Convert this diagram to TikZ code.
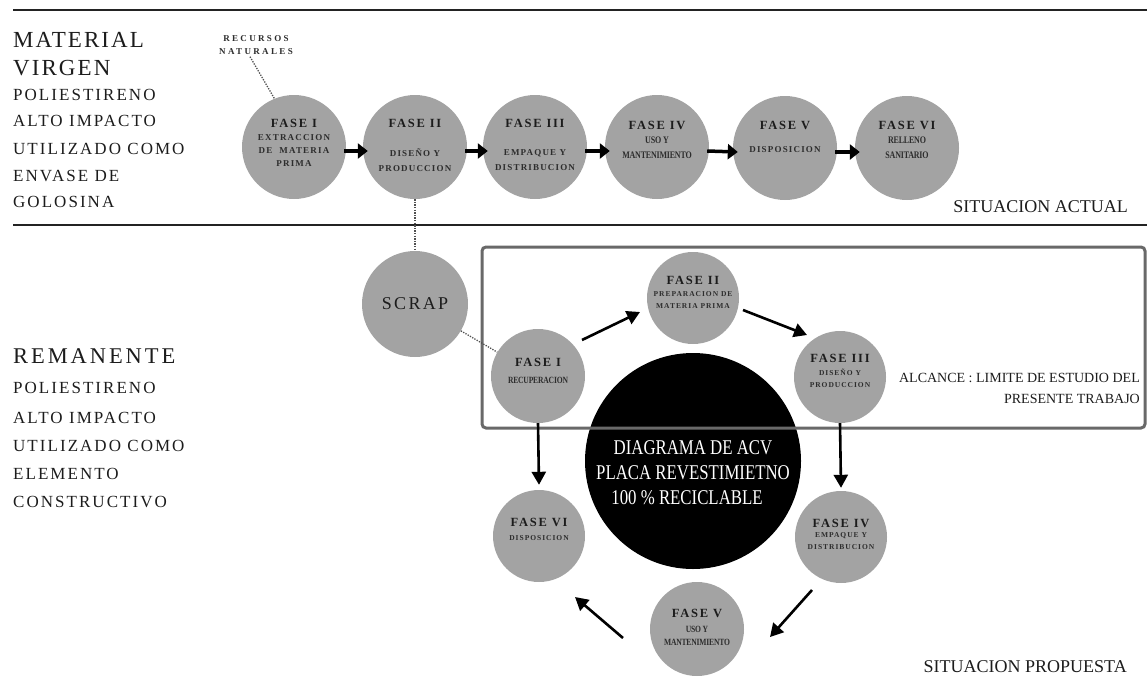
\documentclass[tikz,border=0pt]{standalone}
\usepackage{fontspec}
\setmainfont{Liberation Serif}
\newfontfamily\fntBig[LetterSpace=9]{Liberation Serif}
\newfontfamily\fntRem[LetterSpace=13]{Liberation Serif}
\newfontfamily\fntLeft[LetterSpace=12]{Liberation Serif}
\newfontfamily\fntFase[LetterSpace=14]{Liberation Serif}
\newfontfamily\fntSub[LetterSpace=13]{Liberation Serif}
\newfontfamily\fntRec[LetterSpace=26]{Liberation Serif}
\newfontfamily\fntCond[FakeStretch=0.8,LetterSpace=-2]{Liberation Serif}
\newfontfamily\fntCenter[FakeStretch=0.8]{Liberation Serif}
\usetikzlibrary{arrows.meta,calc}
\definecolor{cgray}{RGB}{163,163,163}
\definecolor{txt}{RGB}{28,28,28}
\definecolor{subc}{RGB}{45,45,45}
\definecolor{boxc}{RGB}{105,105,105}
\definecolor{dotc}{RGB}{80,80,80}
\definecolor{linec}{RGB}{35,35,35}
\begin{document}
\begin{tikzpicture}[x=1pt,y=-1pt,
  circ/.style={circle, fill=cgray, inner sep=0pt, minimum size=#1},
  circ/.default=104,
  fase/.style={font=\fntFase\bfseries\fontsize{12.5}{14}\selectfont, text=txt, inner sep=0pt},
  sub/.style={font=\fntSub\bfseries\fontsize{9}{13}\selectfont, align=center, text=subc, inner sep=0pt},
  subw/.style={font=\fntSub\bfseries\fontsize{9}{15}\selectfont, align=center, text=subc, inner sep=0pt},
  cond/.style={font=\fntCond\bfseries\fontsize{10}{15}\selectfont, align=center, text=subc, inner sep=0pt},
  lsub/.style={font=\fntSub\bfseries\fontsize{7.5}{12}\selectfont, align=center, text=subc, inner sep=0pt},
  lcond/.style={font=\fntCond\bfseries\fontsize{9.5}{12.5}\selectfont, align=center, text=subc, inner sep=0pt},
  bigt/.style={font=\fntBig\fontsize{23}{25}\selectfont, text=txt, anchor=west, inner sep=0pt},
  remt/.style={font=\fntRem\fontsize{22.5}{25}\selectfont, text=txt, anchor=west, inner sep=0pt},
  leftt/.style={font=\fntLeft\fontsize{17}{19}\selectfont, text=txt, anchor=west, inner sep=0pt},
  sit/.style={font=\fontsize{18}{20}\selectfont, text=txt, anchor=east, inner sep=0pt},
  tarr/.style={line width=3.5pt, draw=black, -{Triangle[length=10pt,width=15pt]}},
  barr/.style={line width=2.6pt, draw=black, -{Triangle[length=13pt,width=14pt]}},
  dots/.style={draw=dotc, line width=1.3pt, dash pattern=on 1.3pt off 1.3pt},
  hline/.style={draw=linec, line width=2.8pt},
  boxst/.style={draw=boxc, line width=3pt, rounded corners=4pt}
]
\useasboundingbox (0,0) rectangle (1147,677);

% separator lines
\draw[hline] (13,10) -- (1147,10);
\draw[hline] (13,225) -- (1147,225);

% left texts top
\node[bigt] (l1) at (13,40) {MATERIAL};
\node[bigt] (l2) at (13,68) {VIRGEN};
\node[leftt] (l3) at (13,95) {POLIESTIRENO};
\node[leftt] (l4) at (13,121) {ALTO IMPACTO};
\node[leftt] (l5) at (13,149) {UTILIZADO COMO};
\node[leftt] (l6) at (13,176) {ENVASE DE};
\node[leftt] (l7) at (13,202) {GOLOSINA};

% left texts bottom
\node[remt] (r1) at (13,356) {REMANENTE};
\node[leftt] (r2) at (13,388) {POLIESTIRENO};
\node[leftt] (r3) at (13,418) {ALTO IMPACTO};
\node[leftt] (r4) at (13,446) {UTILIZADO COMO};
\node[leftt] (r5) at (13,474) {ELEMENTO};
\node[leftt] (r6) at (13,502) {CONSTRUCTIVO};

% top row circles
\node[circ] (t1) at (294,147) {};
\node[circ] (t2) at (415,147) {};
\node[circ] (t3) at (535,147) {};
\node[circ] (t4) at (657,147) {};
\node[circ] (t5) at (785,148) {};
\node[circ] (t6) at (907,148) {};

\node[fase] (t1f) at (294,123) {FASE I};
\node[sub] (t1s) at (294,151) {EXTRACCION\\DE\hspace{7pt}MATERIA\\PRIMA};
\node[fase] (t2f) at (415,123) {FASE II};
\node[subw] (t2s) at (415,160) {DISEÑO Y\\PRODUCCION};
\node[fase] (t3f) at (535,123) {FASE III};
\node[subw] (t3s) at (535,160) {EMPAQUE Y\\DISTRIBUCION};
\node[fase] (t4f) at (657,125) {FASE IV};
\node[cond] (t4s) at (657,148) {USO Y\\MANTENIMIENTO};
\node[fase] (t5f) at (785,125) {FASE V};
\node[sub] (t5s) at (785,150) {DISPOSICION};
\node[fase] (t6f) at (907,125) {FASE VI};
\node[cond] (t6s) at (907,148) {RELLENO\\SANITARIO};

% top arrows
\draw[tarr] ([xshift=-2pt,yshift=-4pt]t1.east) -- ([xshift=5pt,yshift=-4pt]t2.west);
\draw[tarr] ([xshift=-2pt,yshift=-4pt]t2.east) -- ([xshift=5pt,yshift=-4pt]t3.west);
\draw[tarr] ([xshift=-2pt,yshift=-4pt]t3.east) -- ([xshift=5pt,yshift=-4pt]t4.west);
\draw[tarr] ([xshift=-2pt,yshift=-4pt]t4.east) -- ([xshift=5pt,yshift=-4pt]t5.west);
\draw[tarr] ([xshift=-2pt,yshift=-4pt]t5.east) -- ([xshift=5pt,yshift=-4pt]t6.west);

% recursos naturales
\node[font=\fntRec\bfseries\fontsize{9}{13}\selectfont, align=center, text=subc, inner sep=0pt] (rec) at (256,45) {RECURSOS\\NATURALES};
\draw[dots] ([xshift=-6pt,yshift=-2pt]rec.south) -- (t1.112);

% situacion actual
\node[sit] (sa) at (1128,207) {SITUACION ACTUAL};

% lower section
\node[circ=106] (scrap) at (415,304) {};
\node[font=\fntRem\fontsize{18}{20}\selectfont, text=txt, inner sep=0pt] (scrapt) at (415,304) {SCRAP};
\draw[dots] (t2) -- (scrap);

\node[circle, fill=black, inner sep=0pt, minimum size=216] (acv) at (693,461) {};
\node[font=\fntCenter\fontsize{21}{25}\selectfont, text=white, align=center, inner sep=0pt] (acvt) at (693,473)
  {DIAGRAMA DE ACV\\PLACA REVESTIMIETNO\\\hspace*{-12pt}100 \% RECICLABLE};

\draw[boxst] (482,247) rectangle (1145,428);

\node[circ=94] (b1) at (538,376) {};
\node[circ=92] (b2) at (693,298) {};
\node[circ=92] (b3) at (840,377) {};
\node[circ=92] (b4) at (841,537) {};
\node[circ=94] (b5) at (697,629) {};
\node[circ=92] (b6) at (539,536) {};

\draw[dots] (scrap) -- (b1);

\node[fase] (b1f) at (538,362) {FASE I};
\node[lcond] (b1s) at (538,380) {RECUPERACION};
\node[fase] (b2f) at (693,280) {FASE II};
\node[lsub] (b2s) at (693,300) {PREPARACION DE\\MATERIA PRIMA};
\node[fase] (b3f) at (840,358) {FASE III};
\node[lsub] (b3s) at (840,378) {DISEÑO Y\\PRODUCCION};
\node[fase] (b4f) at (841,523) {FASE IV};
\node[lsub] (b4s) at (841,541) {EMPAQUE Y\\DISTRIBUCION};
\node[fase] (b5f) at (697,613) {FASE V};
\node[lcond] (b5s) at (697,636) {USO Y\\MANTENIMIENTO};
\node[fase] (b6f) at (539,522) {FASE VI};
\node[lsub] (b6s) at (539,538) {DISPOSICION};

% lower arrows
\draw[barr] ($(b1)+(44,-36)$) -- ($(b2)+(-53,14)$);
\draw[barr] ($(b2)+(50,12)$) -- ($(b3)+(-33,-42)$);
\draw[barr] (b3.south) -- ([yshift=3pt]b4.north);
\draw[barr] ($(b4)+(-29,53)$) -- ($(b5)+(73,8)$);
\draw[barr] ($(b5)+(-74,9)$) -- ($(b6)+(36,61)$);
\draw[barr] (b1.south) -- ([yshift=5pt]b6.north);

% alcance
\node[font=\fontsize{14}{21}\selectfont, text=txt, align=right, anchor=east, inner sep=0pt] (alc) at (1140,388)
  {ALCANCE : LIMITE DE ESTUDIO DEL\\PRESENTE TRABAJO};

\node[sit] (sp) at (1127,667) {SITUACION PROPUESTA};
\end{tikzpicture}
\end{document}
